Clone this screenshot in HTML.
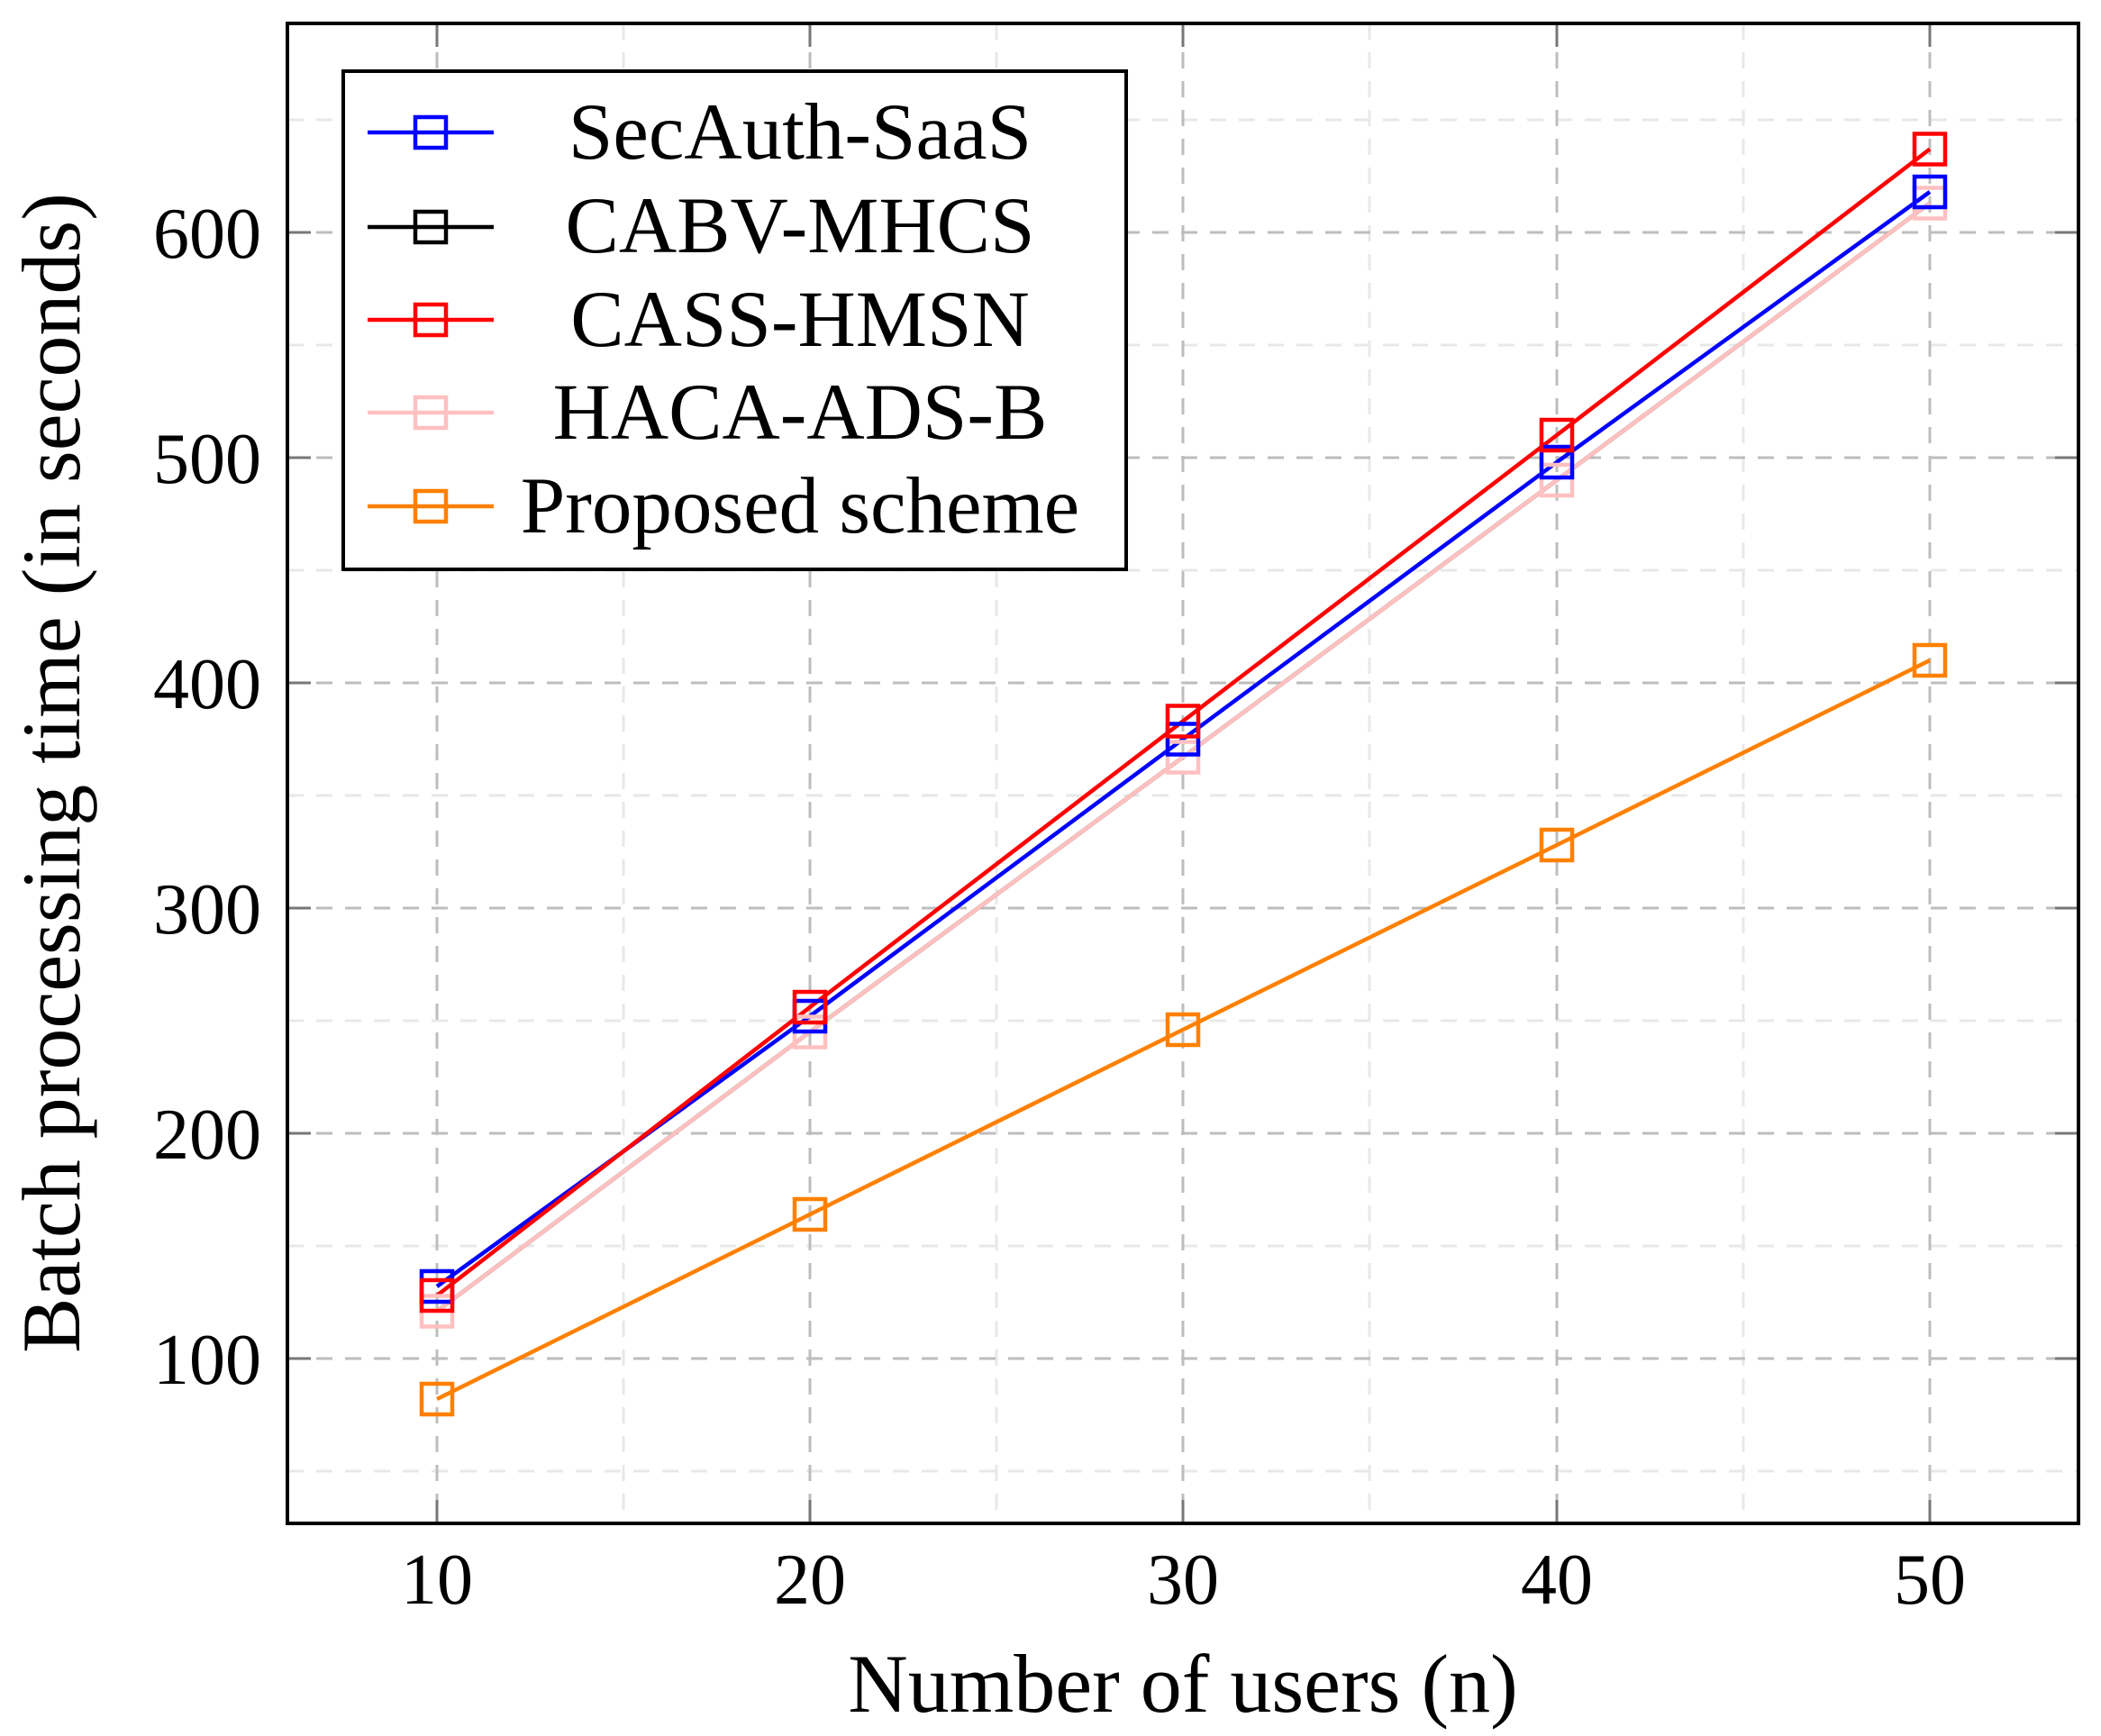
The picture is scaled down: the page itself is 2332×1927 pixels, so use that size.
<!DOCTYPE html>
<html><head><meta charset="utf-8"><style>
html,body{margin:0;padding:0;background:#fff;}
svg{display:block;}
text{font-family:"Liberation Serif",serif;fill:#000;}
</style></head><body>
<svg width="2332" height="1927" viewBox="0 0 2332 1927" xmlns="http://www.w3.org/2000/svg">
<rect width="2332" height="1927" fill="#fff"/>
<g stroke="#e8e8e8" stroke-width="3" stroke-dasharray="18,14">
<line x1="319" y1="133" x2="2307" y2="133"/>
<line x1="319" y1="383" x2="2307" y2="383"/>
<line x1="319" y1="633" x2="2307" y2="633"/>
<line x1="319" y1="883" x2="2307" y2="883"/>
<line x1="319" y1="1133" x2="2307" y2="1133"/>
<line x1="319" y1="1383" x2="2307" y2="1383"/>
<line x1="319" y1="1633" x2="2307" y2="1633"/>
<line x1="692" y1="26" x2="692" y2="1691"/>
<line x1="1106" y1="26" x2="1106" y2="1691"/>
<line x1="1520" y1="26" x2="1520" y2="1691"/>
<line x1="1935" y1="26" x2="1935" y2="1691"/>
</g>
<g stroke="#bdbdbd" stroke-width="3" stroke-dasharray="18,14">
<line x1="319" y1="258" x2="2307" y2="258"/>
<line x1="319" y1="508" x2="2307" y2="508"/>
<line x1="319" y1="758" x2="2307" y2="758"/>
<line x1="319" y1="1008" x2="2307" y2="1008"/>
<line x1="319" y1="1258" x2="2307" y2="1258"/>
<line x1="319" y1="1508" x2="2307" y2="1508"/>
<line x1="485" y1="26" x2="485" y2="1691"/>
<line x1="899" y1="26" x2="899" y2="1691"/>
<line x1="1313" y1="26" x2="1313" y2="1691"/>
<line x1="1728" y1="26" x2="1728" y2="1691"/>
<line x1="2142" y1="26" x2="2142" y2="1691"/>
</g>
<g stroke="#777" stroke-width="3">
<line x1="319" y1="258" x2="345" y2="258"/><line x1="2281" y1="258" x2="2307" y2="258"/>
<line x1="319" y1="508" x2="345" y2="508"/><line x1="2281" y1="508" x2="2307" y2="508"/>
<line x1="319" y1="758" x2="345" y2="758"/><line x1="2281" y1="758" x2="2307" y2="758"/>
<line x1="319" y1="1008" x2="345" y2="1008"/><line x1="2281" y1="1008" x2="2307" y2="1008"/>
<line x1="319" y1="1258" x2="345" y2="1258"/><line x1="2281" y1="1258" x2="2307" y2="1258"/>
<line x1="319" y1="1508" x2="345" y2="1508"/><line x1="2281" y1="1508" x2="2307" y2="1508"/>
<line x1="485" y1="1665" x2="485" y2="1691"/><line x1="485" y1="26" x2="485" y2="52"/>
<line x1="899" y1="1665" x2="899" y2="1691"/><line x1="899" y1="26" x2="899" y2="52"/>
<line x1="1313" y1="1665" x2="1313" y2="1691"/><line x1="1313" y1="26" x2="1313" y2="52"/>
<line x1="1728" y1="1665" x2="1728" y2="1691"/><line x1="1728" y1="26" x2="1728" y2="52"/>
<line x1="2142" y1="1665" x2="2142" y2="1691"/><line x1="2142" y1="26" x2="2142" y2="52"/>
</g>
<g fill="none" stroke-width="4.5">
<polyline stroke="#000" points="485,1455.5 899,1145.5 1313,840.5 1728,533 2142,225.5"/>
<polyline stroke="#ffc0c0" points="485,1455.5 899,1145.5 1313,840.5 1728,533 2142,225.5"/>
<polyline stroke="#0000ff" points="485,1428 899,1128 1313,820.5 1728,513 2142,213"/>
<polyline stroke="#ff0000" points="485,1438 899,1118 1313,800.5 1728,483 2142,165.5"/>
<polyline stroke="#ff8000" points="485,1553 899,1348 1313,1143 1728,938 2142,733"/>
</g>
<g fill="none" stroke-width="4.5">
<g stroke="#ffc0c0"><rect x="468" y="1438.5" width="34" height="34"/><rect x="882" y="1128.5" width="34" height="34"/><rect x="1296" y="823.5" width="34" height="34"/><rect x="1711" y="516" width="34" height="34"/><rect x="2125" y="208.5" width="34" height="34"/></g>
<g stroke="#0000ff"><rect x="468" y="1411" width="34" height="34"/><rect x="882" y="1111" width="34" height="34"/><rect x="1296" y="803.5" width="34" height="34"/><rect x="1711" y="496" width="34" height="34"/><rect x="2125" y="196" width="34" height="34"/></g>
<g stroke="#ff0000"><rect x="468" y="1421" width="34" height="34"/><rect x="882" y="1101" width="34" height="34"/><rect x="1296" y="783.5" width="34" height="34"/><rect x="1711" y="466" width="34" height="34"/><rect x="2125" y="148.5" width="34" height="34"/></g>
<g stroke="#ff8000"><rect x="468" y="1536" width="34" height="34"/><rect x="882" y="1331" width="34" height="34"/><rect x="1296" y="1126" width="34" height="34"/><rect x="1711" y="921" width="34" height="34"/><rect x="2125" y="716" width="34" height="34"/></g>
</g>
<rect x="319" y="26" width="1988" height="1665" fill="none" stroke="#000" stroke-width="4"/>
<rect x="381" y="79" width="869" height="553" fill="#fff" stroke="#000" stroke-width="4"/>
<g stroke-width="4.5" fill="none">
<line x1="408" y1="147" x2="548" y2="147" stroke="#0000ff"/><rect x="461" y="130" width="34" height="34" stroke="#0000ff"/>
<line x1="408" y1="252" x2="548" y2="252" stroke="#000"/><rect x="461" y="235" width="34" height="34" stroke="#000"/>
<line x1="408" y1="355" x2="548" y2="355" stroke="#ff0000"/><rect x="461" y="338" width="34" height="34" stroke="#ff0000"/>
<line x1="408" y1="458" x2="548" y2="458" stroke="#ffc0c0"/><rect x="461" y="441" width="34" height="34" stroke="#ffc0c0"/>
<line x1="408" y1="562" x2="548" y2="562" stroke="#ff8000"/><rect x="461" y="545" width="34" height="34" stroke="#ff8000"/>
</g>
<g font-size="89" text-anchor="middle">
<text x="888" y="176">SecAuth-SaaS</text>
<text x="888" y="280">CABV-MHCS</text>
<text x="888" y="384">CASS-HMSN</text>
<text x="888" y="487">HACA-ADS-B</text>
<text x="888" y="591">Proposed scheme</text>
</g>
<g font-size="80" text-anchor="end">
<text x="290" y="286">600</text>
<text x="290" y="536">500</text>
<text x="290" y="786">400</text>
<text x="290" y="1036">300</text>
<text x="290" y="1286">200</text>
<text x="290" y="1536">100</text>
</g>
<g font-size="80" text-anchor="middle">
<text x="485" y="1780">10</text>
<text x="899" y="1780">20</text>
<text x="1313" y="1780">30</text>
<text x="1728" y="1780">40</text>
<text x="2142" y="1780">50</text>
</g>
<text x="1313" y="1900" font-size="92" text-anchor="middle">Number of users (n)</text>
<text transform="translate(88,858) rotate(-90)" font-size="92" text-anchor="middle">Batch processing time (in seconds)</text>
</svg>
</body></html>
